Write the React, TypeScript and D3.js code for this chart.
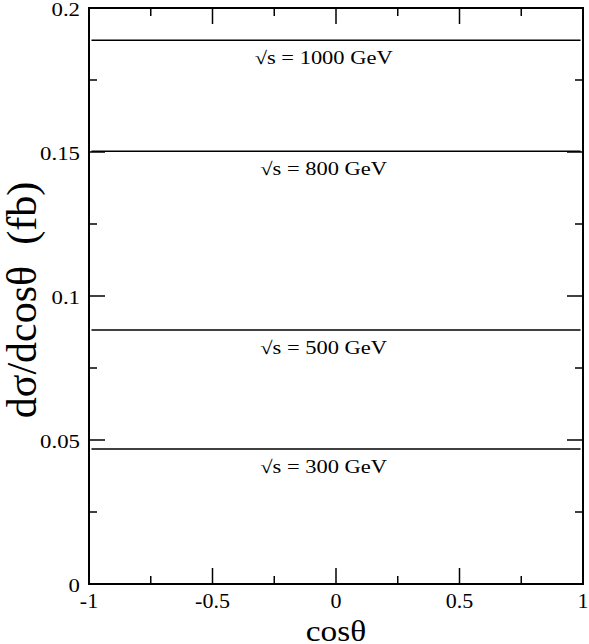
import React, { useEffect, useRef } from 'react';
import * as d3 from 'd3';

// cross section curves, flat in cos(theta)
const energies = ['1000', '800', '500', '300'];
const sigmaValues = [0.1888, 0.1503, 0.0882, 0.0469];
const cosPoints = [-0.99, -0.5, 0, 0.5, 0.99];
const xTicks = [-1, -0.5, 0, 0.5, 1];
const xTickLabels = ['-1', '-0.5', '0', '0.5', '1'];
const yTicks = [0, 0.05, 0.1, 0.15, 0.2];
const yTickLabels = ['0', '0.05', '0.1', '0.15', '0.2'];

const App = () => {
  const svgRef = useRef<SVGSVGElement>(null);

  useEffect(() => {
    const svg = d3.select(svgRef.current);
    svg.selectAll('*').remove();

    const margin = { top: 8, right: 6, bottom: 60, left: 89 };
    const width = 589 - margin.left - margin.right;
    const height = 644 - margin.top - margin.bottom;
    const font = "'Liberation Serif', 'Times New Roman', serif";

    const x = d3.scaleLinear().domain([-1, 1]).range([margin.left, margin.left + width]);
    const y = d3.scaleLinear().domain([0, 0.2]).range([margin.top + height, margin.top]);

    const g = svg.append('g');

    // minor + major ticks on all four sides, pointing in
    const xMinor = d3.range(-1, 1.0001, 0.25);
    const yMinor = d3.range(0, 0.2001, 0.025);
    const isMajor = (v: number, step: number) => Math.abs(v / step - Math.round(v / step)) < 1e-6;

    xMinor.forEach(v => {
      const len = isMajor(v, 0.5) ? 16 : 8;
      g.append('line').attr('x1', x(v)).attr('x2', x(v)).attr('y1', y(0)).attr('y2', y(0) - len)
        .attr('stroke', '#000').attr('stroke-width', 1.5);
      g.append('line').attr('x1', x(v)).attr('x2', x(v)).attr('y1', y(0.2)).attr('y2', y(0.2) + len)
        .attr('stroke', '#000').attr('stroke-width', 1.5);
    });
    yMinor.forEach(v => {
      const len = isMajor(v, 0.05) ? 16 : 8;
      g.append('line').attr('y1', y(v)).attr('y2', y(v)).attr('x1', x(-1)).attr('x2', x(-1) + len)
        .attr('stroke', '#000').attr('stroke-width', 1.5);
      g.append('line').attr('y1', y(v)).attr('y2', y(v)).attr('x1', x(1)).attr('x2', x(1) - len)
        .attr('stroke', '#000').attr('stroke-width', 1.5);
    });

    // frame
    g.append('rect')
      .attr('x', x(-1)).attr('y', y(0.2))
      .attr('width', x(1) - x(-1)).attr('height', y(0) - y(0.2))
      .attr('fill', 'none').attr('stroke', '#000').attr('stroke-width', 2);

    // tick labels (the original is stretched a little horizontally)
    g.selectAll('.xlab').data(xTicks).enter().append('text')
      .attr('x', d => x(d)).attr('y', y(0) + 24)
      .attr('text-anchor', 'middle').attr('font-family', font).attr('font-size', 22)
      .text((d, i) => xTickLabels[i]);

    g.selectAll('.ylab').data(yTicks).enter().append('text')
      .attr('transform', d => `translate(${x(-1) - 9}, ${y(d) + 8}) scale(1.2, 1)`)
      .attr('text-anchor', 'end').attr('font-family', font).attr('font-size', 19)
      .text((d, i) => yTickLabels[i]);

    // curves
    const line = d3.line<number>().x(d => x(d));
    sigmaValues.forEach((s, i) => {
      g.append('path')
        .attr('d', line.y(() => y(s))(cosPoints))
        .attr('fill', 'none').attr('stroke', '#000').attr('stroke-width', 1.5);
      g.append('text')
        .attr('transform', `translate(${x(-0.05)}, ${y(s) + 24}) scale(1.25, 1)`)
        .attr('text-anchor', 'middle').attr('font-family', font).attr('font-size', 18)
        .text(`√s = ${energies[i]} GeV`);
    });

    // axis titles
    g.append('text')
      .attr('transform', `translate(${x(0)}, 641) scale(1.15, 1)`)
      .attr('text-anchor', 'middle').attr('font-family', font).attr('font-size', 29)
      .text('cosθ');
    g.append('text')
      .attr('transform', `translate(36, 300) rotate(-90)`)
      .attr('text-anchor', 'middle').attr('font-family', font).attr('font-size', 42)
      .text('dσ/dcosθ\u00a0\u00a0(fb)');
  }, []);

  return <svg ref={svgRef} width={589} height={644} style={{ position: 'absolute', left: 0, top: 0, background: '#fff' }} />;
};

export default App;
